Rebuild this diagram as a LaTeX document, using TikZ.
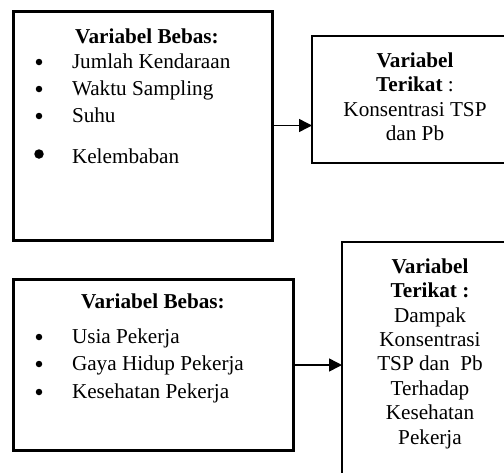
\documentclass[tikz,border=0pt]{standalone}
\usepackage{fontspec}
\setmainfont{Liberation Serif}
\usetikzlibrary{arrows.meta}
\tikzset{
 thickbox/.style={draw=black, line width=3pt, rectangle, inner sep=0pt, outer sep=0pt},
 thinbox/.style={draw=black, line width=1.5pt, rectangle, inner sep=0pt, outer sep=0pt},
 txt/.style={font=\fontsize{21.2}{24.4}\selectfont, inner sep=0pt, outer sep=0pt},
 dot/.style={circle, fill=black, inner sep=0pt, minimum size=6.5pt},
 bigdot/.style={circle, fill=black, inner sep=0pt, minimum size=9.5pt},
 arr/.style={line width=1.5pt, -{Triangle[length=13pt,width=13pt]}}
}
\begin{document}
\begin{tikzpicture}[x=1pt,y=-1pt]
\clip (0,0) rectangle (504,472);
% boxes
\node[thickbox, minimum width=259pt, minimum height=229pt] (b1) at (142.5,125.5) {};
\node[thinbox, minimum width=208pt, minimum height=127pt] (b2) at (416,99.5) {};
\node[thickbox, minimum width=280pt, minimum height=171pt] (b3) at (153,365) {};
\node[thinbox, minimum width=178pt, minimum height=250pt] (b4) at (431,367) {};
% box 1 text
\node[txt, anchor=base] (h1) at (147,43) {\textbf{Variabel Bebas:}};
\node[txt, anchor=base west] (i11) at (72,68) {Jumlah Kendaraan};
\node[txt, anchor=base west] (i12) at (72,95) {Waktu Sampling};
\node[txt, anchor=base west] (i13) at (72,122) {Suhu};
\node[txt, anchor=base west] (i14) at (72,163) {Kelembaban};
\node[dot] (d11) at (39,62) {};
\node[dot] (d12) at (39,89) {};
\node[dot] (d13) at (39,116) {};
\node[bigdot] (d14) at (39,154) {};
% box 2 text
\node[txt, align=center, anchor=north] (t2) at (415,52.6) {\textbf{Variabel}\\\textbf{Terikat} :\\Konsentrasi TSP\\dan Pb};
% box 3 text
\node[txt, anchor=base] (h3) at (153,308) {\textbf{Variabel Bebas:}};
\node[txt, anchor=base west] (i31) at (72,343) {Usia Pekerja};
\node[txt, anchor=base west] (i32) at (72,370) {Gaya Hidup Pekerja};
\node[txt, anchor=base west] (i33) at (72,398) {Kesehatan Pekerja};
\node[dot] (d31) at (39,337) {};
\node[dot] (d32) at (39,364) {};
\node[dot] (d33) at (39,392) {};
% box 4 text
\node[txt, align=center, anchor=north] (t4) at (430,258.6) {\textbf{Variabel}\\\textbf{Terikat :}\\Dampak\\Konsentrasi\\TSP dan\ \ Pb\\Terhadap\\Kesehatan\\Pekerja};
% arrows
\draw[arr] (b1.east) -- (b1.east -| b2.west);
\draw[arr] (b3.east) -- (b3.east -| b4.west);
\end{tikzpicture}
\end{document}
